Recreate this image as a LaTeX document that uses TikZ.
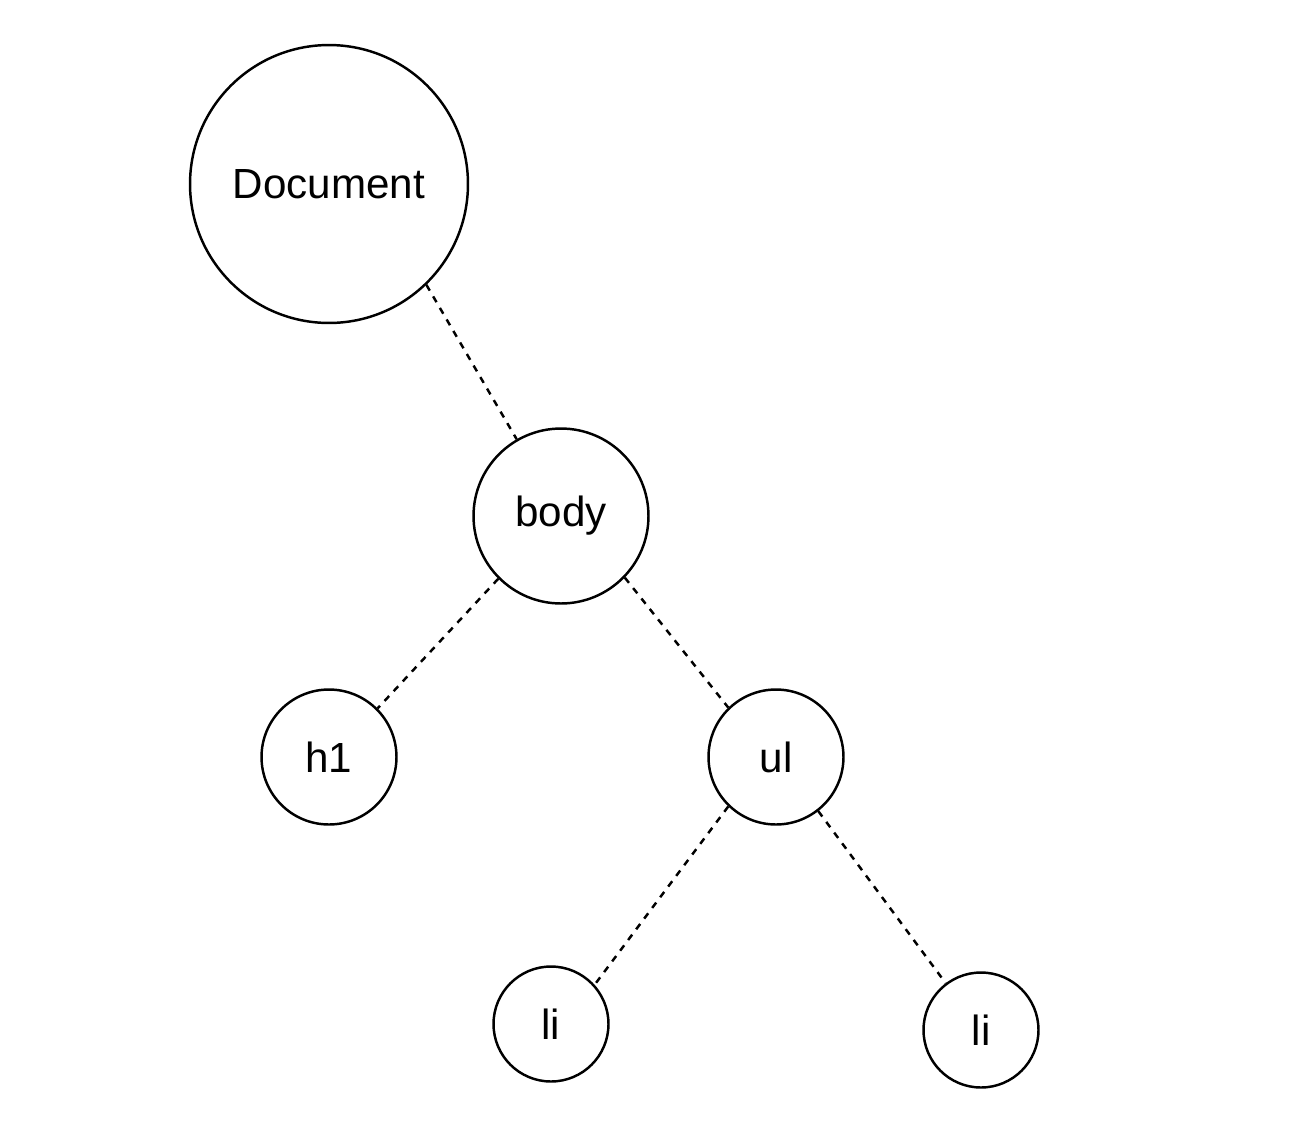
\documentclass[tikz,border=0pt]{standalone}
\usepackage{fontspec}
\setmainfont{Liberation Sans}
\usetikzlibrary{positioning}
\tikzset{
  domnode/.style={circle, draw=black, line width=1.4pt, fill=white,
    inner sep=0pt, font=\fontsize{24}{28}\selectfont},
  domroot/.style={domnode, minimum size=5.56cm},
  dombody/.style={domnode, minimum size=3.5cm},
  domelem/.style={domnode, minimum size=2.7cm},
  domleaf/.style={domnode, minimum size=2.3cm},
  domlink/.style={line width=1.4pt, dash pattern=on 3.8pt off 3.8pt},
}
\begin{document}
\begin{tikzpicture}[x=0.02cm, y=-0.02cm]
  \useasboundingbox (0,0) rectangle (1296,1144);
  \node[domroot] (doc) at (329,184) {\raisebox{-1.5pt}{Document}};
  \node[dombody] (body) at (561,516) {\raisebox{-1.5pt}{body}};
  \node[domelem] (h1) at (329,757) {\raisebox{-1.5pt}{h1}};
  \node[domelem] (ul) at (776,757) {\raisebox{-1.5pt}{ul}};
  \node[domleaf] (li1) at (551,1024) {\raisebox{-1.5pt}{li}};
  \node[domleaf] (li2) at (981,1030) {\raisebox{-1.5pt}{li}};
  \draw[domlink] (doc.-46)--(body.120);
  \draw[domlink] (body.225)--(h1.45);
  \draw[domlink] (body.-44)--(ul.134);
  \draw[domlink] (ul.-134)--(li1.42);
  \draw[domlink] (ul.-52)--(li2.127);
\end{tikzpicture}
\end{document}
